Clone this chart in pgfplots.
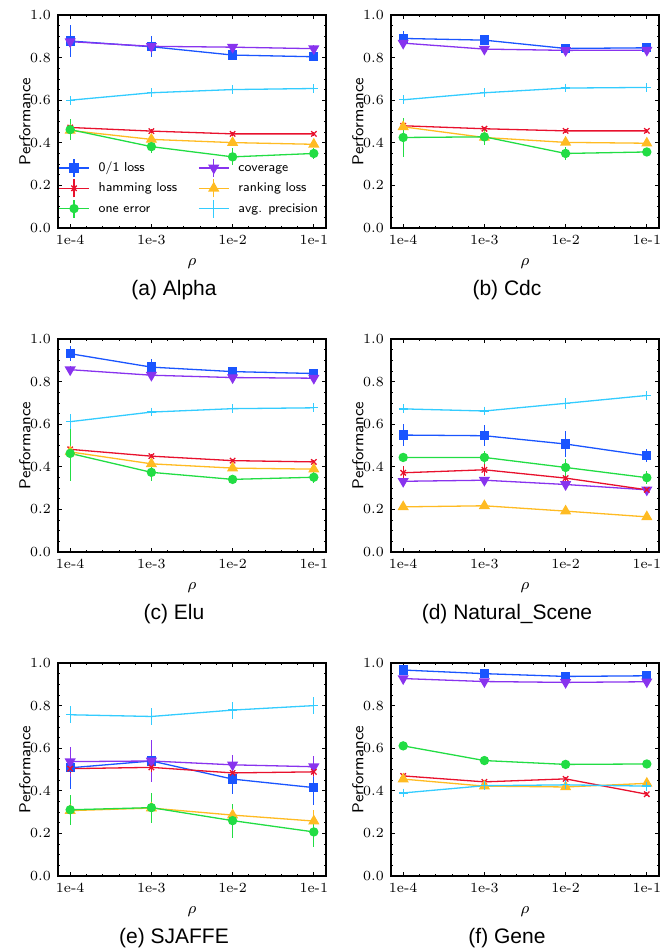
\documentclass[border=0pt]{standalone}
\usepackage{fontspec}
\usepackage{pgfplots}
\pgfplotsset{compat=1.18}
\newfontfamily\capfont{Liberation Sans}

\definecolor{c01}{HTML}{1A55FF}
\definecolor{cham}{HTML}{E8112D}
\definecolor{cone}{HTML}{22DD44}
\definecolor{ccov}{HTML}{8833EE}
\definecolor{crank}{HTML}{FFBB22}
\definecolor{cavg}{HTML}{33CCFF}

\pgfplotsset{
  panel/.style={
    width=134pt, height=106.5pt, scale only axis,
    xmin=-0.15, xmax=3.15, ymin=0, ymax=1,
    xtick={0,1,2,3}, xticklabels={1e-4,1e-3,1e-2,1e-1},
    ytick={0,0.2,0.4,0.6,0.8,1.0},
    minor x tick num=4, minor y tick num=3,
    tick align=inside,
    major tick length=2pt, minor tick length=1.1pt,
    tick style={black, line width=0.4pt},
    axis line style={line width=0.6pt},
    ticklabel style={font=\fontsize{7}{8}\selectfont},
    yticklabel style={/pgf/number format/.cd, fixed, fixed zerofill, precision=1},
    xlabel={$\rho$}, ylabel={\sffamily Performance},
    ylabel shift=-7pt,
    label style={font=\fontsize{7.9}{9}\selectfont},
    every axis plot/.append style={line width=0.65pt,
      error bars/y dir=both, error bars/y explicit, error bars/error mark=none,
      error bars/error bar style={line width=0.6pt}},
  },
  s01/.style={color=c01, mark=square*, mark size=2pt},
  scov/.style={color=ccov, mark=triangle*, mark size=2.6pt, mark options={rotate=180}},
  sham/.style={color=cham, mark=x, mark size=1.9pt},
  srank/.style={color=crank, mark=triangle*, mark size=2.6pt},
  sone/.style={color=cone, mark=*, mark size=2pt},
  savg/.style={color=cavg, mark=+, mark size=2.2pt},
}

\begin{document}
\begin{tikzpicture}
\useasboundingbox (0,0) rectangle (336pt,-475pt);

% (a) Alpha
\begin{axis}[panel, at={(29pt,-7.5pt)}, anchor=north west,
  legend columns=2, legend cell align=left,
  legend style={at={(0,0.329)}, anchor=north west, draw=none, fill=none,
    font=\sffamily\fontsize{6.5}{8}\selectfont, inner sep=0pt,
    nodes={inner sep=1pt, text height=5pt, text depth=1.5pt}, row sep=0.5pt,
    /tikz/every odd column/.append style={column sep=3.5pt},
    /tikz/every even column/.append style={column sep=9.5pt}},
  legend image code/.code={
    \draw[mark repeat=2, mark phase=2] plot coordinates {(0pt,0pt) (7.5pt,0pt) (15pt,0pt)};
    \draw[mark=none] (7.5pt,-4.5pt) -- (7.5pt,4.5pt);
  }]
\addplot[s01] coordinates {(0,0.878) +- (0,0.075) (1,0.851) +- (0,0.05) (2,0.812) +- (0,0.02) (3,0.804) +- (0,0.015)};
\addplot[scov] coordinates {(0,0.875) +- (0,0.02) (1,0.853) +- (0,0.015) (2,0.849) +- (0,0.015) (3,0.842) +- (0,0.015)};
\addplot[sham] coordinates {(0,0.472) +- (0,0.015) (1,0.455) +- (0,0.01) (2,0.442) +- (0,0.01) (3,0.442) +- (0,0.01)};
\addplot[srank] coordinates {(0,0.458) +- (0,0.03) (1,0.416) +- (0,0.02) (2,0.401) +- (0,0.015) (3,0.393) +- (0,0.015)};
\addplot[sone] coordinates {(0,0.462) +- (0,0.05) (1,0.382) +- (0,0.03) (2,0.334) +- (0,0.04) (3,0.350) +- (0,0.025)};
\addplot[savg] coordinates {(0,0.600) +- (0,0.015) (1,0.635) +- (0,0.01) (2,0.650) +- (0,0.01) (3,0.655) +- (0,0.01)};
\legend{0/1 loss, coverage, hamming loss, ranking loss, one error, avg. precision}
\end{axis}

% (b) Cdc
\begin{axis}[panel, at={(195.5pt,-7.5pt)}, anchor=north west]
\addplot[s01] coordinates {(0,0.890) +- (0,0.035) (1,0.882) +- (0,0.025) (2,0.843) +- (0,0.015) (3,0.846) +- (0,0.015)};
\addplot[scov] coordinates {(0,0.868) +- (0,0.015) (1,0.840) +- (0,0.015) (2,0.834) +- (0,0.015) (3,0.835) +- (0,0.015)};
\addplot[sham] coordinates {(0,0.480) +- (0,0.01) (1,0.466) +- (0,0.01) (2,0.456) +- (0,0.01) (3,0.456) +- (0,0.01)};
\addplot[srank] coordinates {(0,0.475) +- (0,0.03) (1,0.425) +- (0,0.02) (2,0.402) +- (0,0.01) (3,0.398) +- (0,0.01)};
\addplot[sone] coordinates {(0,0.425) +- (0,0.09) (1,0.428) +- (0,0.04) (2,0.350) +- (0,0.03) (3,0.357) +- (0,0.02)};
\addplot[savg] coordinates {(0,0.602) +- (0,0.01) (1,0.635) +- (0,0.01) (2,0.657) +- (0,0.01) (3,0.660) +- (0,0.01)};
\end{axis}

% (c) Elu
\begin{axis}[panel, at={(29pt,-169.5pt)}, anchor=north west]
\addplot[s01] coordinates {(0,0.931) +- (0,0.035) (1,0.868) +- (0,0.04) (2,0.847) +- (0,0.02) (3,0.838) +- (0,0.015)};
\addplot[scov] coordinates {(0,0.856) +- (0,0.015) (1,0.830) +- (0,0.015) (2,0.819) +- (0,0.015) (3,0.816) +- (0,0.015)};
\addplot[sham] coordinates {(0,0.482) +- (0,0.015) (1,0.450) +- (0,0.01) (2,0.429) +- (0,0.01) (3,0.423) +- (0,0.01)};
\addplot[srank] coordinates {(0,0.470) +- (0,0.02) (1,0.414) +- (0,0.015) (2,0.394) +- (0,0.015) (3,0.389) +- (0,0.01)};
\addplot[sone] coordinates {(0,0.463) +- (0,0.13) (1,0.374) +- (0,0.04) (2,0.341) +- (0,0.02) (3,0.351) +- (0,0.025)};
\addplot[savg] coordinates {(0,0.612) +- (0,0.035) (1,0.657) +- (0,0.015) (2,0.673) +- (0,0.01) (3,0.677) +- (0,0.01)};
\end{axis}

% (d) Natural_Scene
\begin{axis}[panel, at={(195.5pt,-169.5pt)}, anchor=north west]
\addplot[s01] coordinates {(0,0.549) +- (0,0.05) (1,0.546) +- (0,0.05) (2,0.507) +- (0,0.06) (3,0.452) +- (0,0.03)};
\addplot[scov] coordinates {(0,0.332) +- (0,0.015) (1,0.337) +- (0,0.015) (2,0.317) +- (0,0.01) (3,0.292) +- (0,0.01)};
\addplot[sham] coordinates {(0,0.372) +- (0,0.03) (1,0.386) +- (0,0.03) (2,0.347) +- (0,0.02) (3,0.292) +- (0,0.01)};
\addplot[srank] coordinates {(0,0.212) +- (0,0.01) (1,0.217) +- (0,0.01) (2,0.192) +- (0,0.01) (3,0.165) +- (0,0.01)};
\addplot[sone] coordinates {(0,0.444) +- (0,0.015) (1,0.444) +- (0,0.03) (2,0.397) +- (0,0.04) (3,0.349) +- (0,0.03)};
\addplot[savg] coordinates {(0,0.672) +- (0,0.015) (1,0.662) +- (0,0.02) (2,0.698) +- (0,0.025) (3,0.735) +- (0,0.015)};
\end{axis}

% (e) SJAFFE
\begin{axis}[panel, at={(29pt,-331.5pt)}, anchor=north west]
\addplot[s01] coordinates {(0,0.508) +- (0,0.1) (1,0.540) +- (0,0.1) (2,0.455) +- (0,0.07) (3,0.415) +- (0,0.08)};
\addplot[scov] coordinates {(0,0.537) +- (0,0.07) (1,0.540) +- (0,0.1) (2,0.522) +- (0,0.045) (3,0.513) +- (0,0.05)};
\addplot[sham] coordinates {(0,0.504) +- (0,0.02) (1,0.510) +- (0,0.02) (2,0.484) +- (0,0.03) (3,0.489) +- (0,0.02)};
\addplot[srank] coordinates {(0,0.307) +- (0,0.06) (1,0.319) +- (0,0.06) (2,0.286) +- (0,0.05) (3,0.258) +- (0,0.05)};
\addplot[sone] coordinates {(0,0.311) +- (0,0.07) (1,0.321) +- (0,0.07) (2,0.260) +- (0,0.08) (3,0.207) +- (0,0.07)};
\addplot[savg] coordinates {(0,0.757) +- (0,0.04) (1,0.749) +- (0,0.04) (2,0.779) +- (0,0.04) (3,0.800) +- (0,0.04)};
\end{axis}

% (f) Gene
\begin{axis}[panel, at={(195.5pt,-331.5pt)}, anchor=north west]
\addplot[s01] coordinates {(0,0.967) +- (0,0.01) (1,0.950) +- (0,0.01) (2,0.937) +- (0,0.01) (3,0.940) +- (0,0.01)};
\addplot[scov] coordinates {(0,0.927) +- (0,0.01) (1,0.913) +- (0,0.01) (2,0.909) +- (0,0.01) (3,0.912) +- (0,0.01)};
\addplot[sham] coordinates {(0,0.470) +- (0,0.015) (1,0.442) +- (0,0.01) (2,0.456) +- (0,0.01) (3,0.384) +- (0,0.01)};
\addplot[srank] coordinates {(0,0.455) +- (0,0.015) (1,0.422) +- (0,0.01) (2,0.418) +- (0,0.01) (3,0.435) +- (0,0.01)};
\addplot[sone] coordinates {(0,0.611) +- (0,0.01) (1,0.542) +- (0,0.01) (2,0.524) +- (0,0.01) (3,0.526) +- (0,0.01)};
\addplot[savg] coordinates {(0,0.390) +- (0,0.01) (1,0.424) +- (0,0.01) (2,0.428) +- (0,0.01) (3,0.422) +- (0,0.01)};
\end{axis}

\begin{scope}[every node/.style={font=\capfont\fontsize{10.5}{12}\selectfont}]
\node at (87pt,-145pt) {(a) Alpha};
\node at (253.5pt,-145pt) {(b) Cdc};
\node at (87pt,-307pt) {(c) Elu};
\node at (253.5pt,-307pt) {(d) Natural\_Scene};
\node at (87pt,-469pt) {(e) SJAFFE};
\node at (253.5pt,-469pt) {(f) Gene};
\end{scope}
\end{tikzpicture}
\end{document}
